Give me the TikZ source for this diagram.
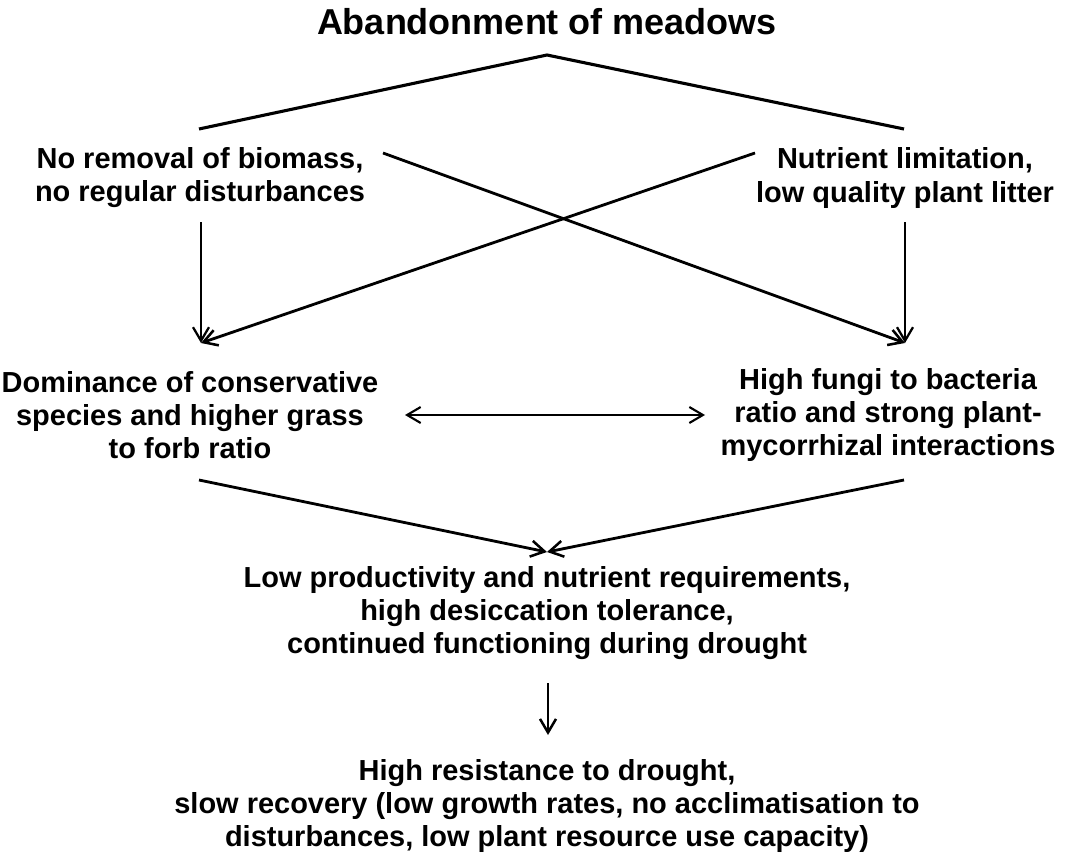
\documentclass[tikz,border=0pt]{standalone}
\usepackage{fontspec}
\setmainfont{Liberation Sans}
\usetikzlibrary{arrows.meta}
\tikzset{
  txt/.style={font=\bfseries\fontsize{20.6}{23.5}\selectfont,align=center,inner sep=0pt},
  heading/.style={font=\bfseries\fontsize{25.6}{29}\selectfont,inner sep=0pt},
  branch/.style={line width=2.2pt},
  flow/.style={-{Straight Barb[length=3.4mm,width=4mm,line width=1.8pt]},line width=2pt},
  drop/.style={-{Straight Barb[length=3.4mm,width=4mm,line width=1.6pt]},line width=1.5pt},
  twoway/.style={{Straight Barb[length=3.4mm,width=4mm,line width=1.5pt]}-{Straight Barb[length=3.4mm,width=4mm,line width=1.5pt]},line width=1.4pt}
}
\begin{document}
\begin{tikzpicture}[x=0.025cm,y=-0.025cm]
  \useasboundingbox (0,0) rectangle (1071,861);
  \node[heading] (title) at (547,22) {Abandonment of meadows};
  \node[txt] (noremoval) at (200,178) {No removal of biomass,\\no regular disturbances};
  \node[txt] (nutrient) at (905,178) {Nutrient limitation,\\low quality plant litter};
  \node[txt] (dominance) at (190,415) {Dominance of conservative\\species and higher grass\\to forb ratio};
  \node[txt] (fungi) at (888,415) {High fungi to bacteria\\ratio and strong plant-\\mycorrhizal interactions};
  \node[txt] (lowprod) at (547,613) {Low productivity and nutrient requirements,\\high desiccation tolerance,\\continued functioning during drought};
  \node[txt] (resist) at (547,806) {High resistance to drought,\\slow recovery (low growth rates, no acclimatisation to\\disturbances, low plant resource use capacity)};
  % junction points
  \coordinate (apex) at (547,55);
  \coordinate (nr-top) at (199,129);
  \coordinate (nl-top) at (904,129);
  \coordinate (nr-bot) at (201,222);
  \coordinate (nl-bot) at (905,222);
  \coordinate (nr-cross) at (383,153);
  \coordinate (nl-cross) at (755,153);
  \coordinate (dom-top) at (201,343);
  \coordinate (fun-top) at (905,343);
  \coordinate (dom-east) at (405,415);
  \coordinate (fun-west) at (705,415);
  \coordinate (dom-bot) at (199,480);
  \coordinate (fun-bot) at (904,480);
  \coordinate (low-top) at (547,552);
  \coordinate (low-bot) at (548,683);
  \coordinate (res-top) at (548,735);
  \draw[branch] (nr-top) -- (apex) -- (nl-top);
  \draw[drop] (nr-bot) -- (dom-top);
  \draw[drop] (nl-bot) -- (fun-top);
  \draw[flow] (nr-cross) -- (fun-top);
  \draw[flow] (nl-cross) -- (dom-top);
  \draw[twoway] (dom-east) -- (fun-west);
  \draw[flow] (dom-bot) -- (low-top);
  \draw[flow] (fun-bot) -- (low-top);
  \draw[flow] (low-bot) -- (res-top);
\end{tikzpicture}
\end{document}
